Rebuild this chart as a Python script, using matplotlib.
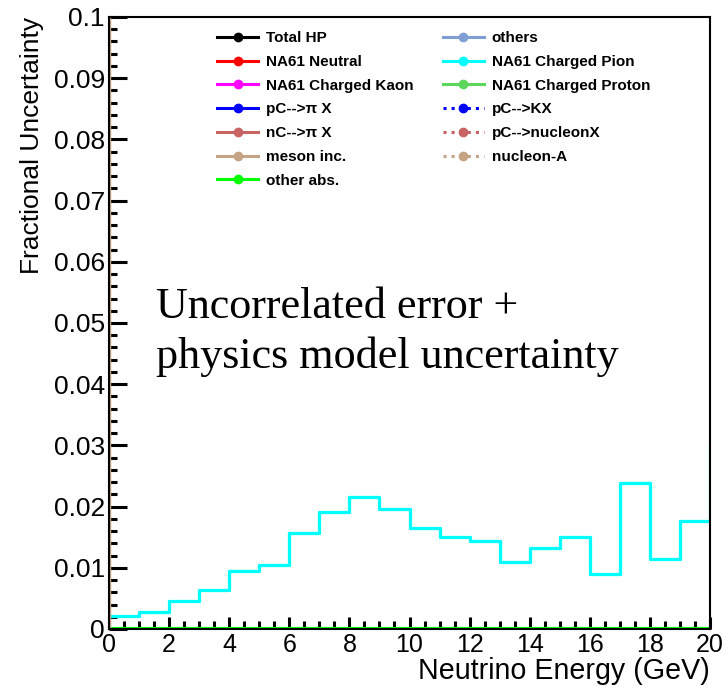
import matplotlib
matplotlib.use("Agg")
import matplotlib.pyplot as plt
from matplotlib.ticker import MultipleLocator, FormatStrFormatter
import numpy as np

plt.rcParams['font.family'] = ['Liberation Sans', 'DejaVu Sans']

# bin edges (GeV), one extra bin past 20 that gets clipped at the frame
energy_edges = np.arange(0, 22, 1)
# NA61 charged pion fractional uncertainty per 1 GeV bin
charged_pion = [0.0021, 0.0027, 0.0046, 0.0064, 0.0095, 0.0104, 0.0157, 0.0191,
                0.0215, 0.0196, 0.0165, 0.0150, 0.0144, 0.0110, 0.0132, 0.0151,
                0.0090, 0.0239, 0.0115, 0.0177, 0.0303]
zero_series = [0.0] * 21

# legend entries: (label, colour, linestyle)
col1 = [("Total HP", "#000000", "-"),
        ("NA61 Neutral", "#ff0000", "-"),
        ("NA61 Charged Kaon", "#ff00ff", "-"),
        ("pC-->\u03c0 X", "#0000ff", "-"),
        ("nC-->\u03c0 X", "#c86464", "-"),
        ("meson inc.", "#c4a484", "-"),
        ("other abs.", "#00ff00", "-")]
col2 = [("others", "#7f9fd4", "-"),
        ("NA61 Charged Pion", "#00ffff", "-"),
        ("NA61 Charged Proton", "#5cd65c", "-"),
        ("pC-->KX", "#0000ff", ":"),
        ("pC-->nucleonX", "#c86464", ":"),
        ("nucleon-A", "#c4a484", ":")]

fig = plt.figure(figsize=(7.28, 6.88), dpi=100)
ax = fig.add_axes([109/728, 1-629/688, 601/728, 612/688])

handles = []
for label, color, ls in col1 + col2:
    vals = charged_pion if label == "NA61 Charged Pion" else zero_series
    h, = ax.step(energy_edges, [vals[0]] + list(vals), where='pre', color=color,
                 lw=2.2, ls=ls, marker='o', markersize=6, markevery=[], label=label)
    handles.append(h)
# redraw the cyan on top of zero lines, green zero line last
ax.step(energy_edges, [charged_pion[0]] + charged_pion, where='pre', color="#00ffff", lw=2.3)
ax.step(energy_edges, [0.0] + zero_series, where='pre', color="#00ff00", lw=3)
ax.axvline(energy_edges[0], color="#c4a484", lw=2.5)

ax.set_xlim(0, 20)
ax.set_ylim(0, 0.1)
ax.xaxis.set_major_locator(MultipleLocator(2))
ax.xaxis.set_minor_locator(MultipleLocator(0.5))
ax.yaxis.set_major_locator(MultipleLocator(0.01))
ax.yaxis.set_minor_locator(MultipleLocator(0.002))
ax.yaxis.set_major_formatter(FormatStrFormatter('%g'))
ax.tick_params(which='both', direction='in', top=False, right=False, width=2.2)
ax.tick_params(axis='y', which='major', length=13, labelsize=19, pad=3)
ax.tick_params(axis='y', which='minor', length=6)
ax.tick_params(axis='x', which='major', length=9, labelsize=18, pad=3)
ax.tick_params(axis='x', which='minor', length=5.5)
for s in ax.spines.values():
    s.set_linewidth(1.5)

ax.set_xlabel("Neutrino Energy (GeV)", fontsize=20.6, loc='right', labelpad=0)
ax.set_ylabel("Fractional Uncertainty", fontsize=19, loc='top', labelpad=7)

leg = fig.legend(handles=handles, loc='upper left', ncol=2, numpoints=1,
                 bbox_to_anchor=(211/728, 1-25/688), frameon=False,
                 prop={'weight': 'bold', 'size': 11},
                 handlelength=2.7, handletextpad=0.5, columnspacing=1.9,
                 labelspacing=0.64, borderaxespad=0)
for lh in leg.legend_handles:
    lh.set_markevery([1])

fig.text(156/728, 1-368/688, "Uncorrelated error +\nphysics model uncertainty",
         family='Liberation Serif', fontsize=31.8,
         linespacing=1.3, va='baseline', ha='left')

fig.savefig("out.png", dpi=100)
